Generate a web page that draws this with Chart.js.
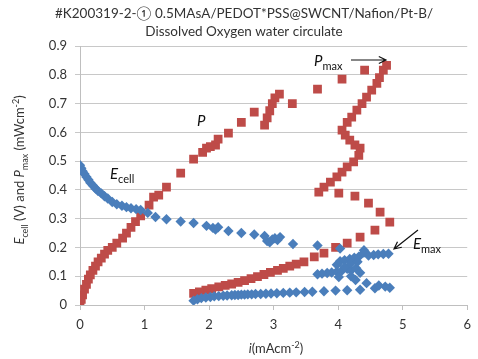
<!DOCTYPE html>
<html lang="en">
<head>
<meta charset="UTF-8">
<title>Ecell and P vs i</title>
<style>
  html, body { margin: 0; padding: 0; background: #fff; }
  #chart { display: block; }
</style>
</head>
<body>
<canvas id="chart" width="478" height="359"></canvas>
<script src="https://cdn.jsdelivr.net/npm/chart.js"></script>
<script>
// P (red squares): current density i (mA/cm2) and power (mW/cm2)
const pI = [0, 0.02, 0.04, 0.07, 0.1, 0.13, 0.16, 0.2, 0.24, 0.28, 0.33, 0.38, 0.43, 0.5, 0.57, 0.66, 0.72, 0.79, 0.86, 0.94,
  1.07, 1.14, 1.22, 1.34, 1.56, 1.76, 1.9, 1.96, 2.02, 2.1, 2.14, 2.3, 2.5, 2.7, 2.86, 2.9, 2.94, 2.98, 3.02, 3.09, 3.29, 3.68, 4.06, 4.41, 4.75,
  4.7, 4.64, 4.6, 4.52, 4.44, 4.37, 4.29, 4.21, 4.14, 4.06, 4.11, 4.18, 4.26, 4.34, 4.32, 4.24, 4.14, 4.06, 3.98, 3.88, 3.78, 3.7,
  4.01, 4.26, 4.47, 4.65, 4.8,
  4.57, 4.34, 4.14, 3.96, 3.78, 3.63, 3.47, 3.35, 3.25, 3.15, 3.06, 2.95, 2.85, 2.75, 2.65, 2.55, 2.45, 2.35, 2.25, 2.15, 2.04, 1.95, 1.85, 1.76];
const pV = [0.005, 0.02, 0.035, 0.055, 0.072, 0.09, 0.105, 0.12, 0.135, 0.15, 0.163, 0.177, 0.19, 0.2, 0.215, 0.232, 0.25, 0.27, 0.29, 0.31,
  0.347, 0.375, 0.382, 0.41, 0.458, 0.507, 0.53, 0.545, 0.55, 0.556, 0.576, 0.597, 0.635, 0.67, 0.625, 0.65, 0.675, 0.7, 0.72, 0.733, 0.7, 0.75, 0.785, 0.816, 0.833,
  0.816, 0.79, 0.77, 0.747, 0.722, 0.7, 0.677, 0.653, 0.635, 0.608, 0.59, 0.573, 0.556, 0.545, 0.52, 0.497, 0.48, 0.462, 0.445, 0.427, 0.41, 0.392,
  0.389, 0.378, 0.354, 0.323, 0.288,
  0.26, 0.236, 0.215, 0.2, 0.18, 0.167, 0.15, 0.142, 0.135, 0.127, 0.12, 0.113, 0.106, 0.099, 0.092, 0.085, 0.079, 0.073, 0.068, 0.063, 0.057, 0.052, 0.046, 0.04];

// Ecell (blue diamonds): current density i and cell voltage (V)
const eI = [0, 0.02, 0.04, 0.07, 0.1, 0.13, 0.16, 0.2, 0.24, 0.28, 0.33, 0.38, 0.43, 0.5, 0.57, 0.65, 0.72, 0.79, 0.87, 0.94,
  1.05, 1.17, 1.34, 1.56, 1.76, 1.96, 2.06, 2.1, 2.14, 2.3, 2.5, 2.7, 2.86, 2.9, 2.94, 2.98, 3.02, 3.06, 3.1, 3.3, 3.68, 4.03, 4.4,
  1.76, 1.82, 1.88, 1.95, 2.02, 2.08, 2.15, 2.22, 2.28, 2.35, 2.4, 2.45, 2.5, 2.55, 2.6, 2.66, 2.72, 2.8, 2.88, 2.96, 3.05, 3.15, 3.25, 3.35, 3.48, 3.6, 3.78, 3.96, 4.14, 4.34, 4.57, 4.8,
  3.68, 3.75, 3.83, 3.9, 3.98, 4.06, 4.14, 4.2, 4.28, 4.34, 4.2, 4.01, 4.27, 4.44, 4.63, 4.73,
  3.98, 4.03, 4.1, 4.18, 4.25, 4.32, 4.4, 4.47, 4.55, 4.62, 4.7, 4.78, 4.1, 4.2, 4.3];
const eV = [0.486, 0.475, 0.465, 0.455, 0.445, 0.435, 0.425, 0.415, 0.405, 0.396, 0.388, 0.378, 0.37, 0.358, 0.35, 0.345, 0.34, 0.336, 0.333, 0.33,
  0.32, 0.306, 0.298, 0.29, 0.285, 0.275, 0.268, 0.262, 0.27, 0.257, 0.25, 0.245, 0.24, 0.222, 0.218, 0.228, 0.232, 0.226, 0.236, 0.212, 0.207, 0.196, 0.19,
  0.015, 0.02, 0.024, 0.026, 0.028, 0.03, 0.031, 0.032, 0.033, 0.034, 0.035, 0.035, 0.036, 0.036, 0.037, 0.037, 0.038, 0.038, 0.039, 0.04, 0.041, 0.042, 0.043, 0.044, 0.045, 0.046, 0.048, 0.05, 0.051, 0.053, 0.058, 0.06,
  0.107, 0.109, 0.111, 0.113, 0.116, 0.12, 0.126, 0.12, 0.128, 0.112, 0.1, 0.097, 0.087, 0.076, 0.068, 0.064,
  0.14, 0.152, 0.156, 0.16, 0.164, 0.168, 0.182, 0.172, 0.174, 0.176, 0.177, 0.178, 0.132, 0.145, 0.15];

const xTicks = [0, 1, 2, 3, 4, 5, 6];
const yTicks = [0, 0.1, 0.2, 0.3, 0.4, 0.5, 0.6, 0.7, 0.8, 0.9];
const titleLines = ['#K200319-2-\u2460 0.5MAsA/PEDOT*PSS@SWCNT/Nafion/Pt-B/', 'Dissolved Oxygen water circulate'];

const FONT = 'Lato, "DejaVu Sans", sans-serif';
const TXT = '#333333';

function toPoints(xs, ys) {
  return xs.map((x, k) => ({ x: x, y: ys[k] }));
}

// draw text made of parts with italic / sub / sup
function drawRich(ctx, parts, x, y, size, align) {
  const fontOf = p => (p.italic ? 'italic ' : '') + (p.sub || p.sup ? Math.round(size * 0.72) : size) + 'px ' + FONT;
  let total = 0;
  parts.forEach(p => { ctx.font = fontOf(p); total += ctx.measureText(p.t).width; });
  let cx = align === 'center' ? x - total / 2 : x;
  ctx.textAlign = 'left';
  ctx.textBaseline = 'alphabetic';
  parts.forEach(p => {
    ctx.font = fontOf(p);
    let dy = 0;
    if (p.sub) dy = size * 0.28;
    if (p.sup) dy = -size * 0.4;
    ctx.fillText(p.t, cx, y + dy);
    cx += ctx.measureText(p.t).width;
  });
}

function arrow(ctx, x1, y1, x2, y2) {
  const a = Math.atan2(y2 - y1, x2 - x1);
  const h = 8;
  ctx.beginPath();
  ctx.moveTo(x1, y1);
  ctx.lineTo(x2, y2);
  ctx.moveTo(x2 - h * Math.cos(a - 0.45), y2 - h * Math.sin(a - 0.45));
  ctx.lineTo(x2, y2);
  ctx.lineTo(x2 - h * Math.cos(a + 0.45), y2 - h * Math.sin(a + 0.45));
  ctx.stroke();
}

const labelsPlugin = {
  id: 'labels',
  afterDraw(chart) {
    const ctx = chart.ctx;
    ctx.save();
    ctx.fillStyle = TXT;
    // title
    ctx.font = '13.5px ' + FONT;
    ctx.textAlign = 'center';
    ctx.textBaseline = 'middle';
    ctx.fillText(titleLines[0], 244, 14);
    ctx.fillText(titleLines[1], 244, 32);

    // axis titles
    drawRich(ctx, [{ t: 'i', italic: true }, { t: '(mAcm' }, { t: '-2', sup: true }, { t: ')' }], 276, 353, 13, 'center');
    ctx.save();
    ctx.translate(24, 170);
    ctx.rotate(-Math.PI / 2);
    drawRich(ctx, [{ t: 'E', italic: true }, { t: 'cell', sub: true }, { t: ' (V) and ' }, { t: 'P', italic: true },
      { t: 'max', sub: true }, { t: ' (mWcm' }, { t: '-2', sup: true }, { t: ')' }], 0, 0, 13, 'center');
    ctx.restore();

    // annotations
    ctx.fillStyle = '#111';
    drawRich(ctx, [{ t: 'P', italic: true }], 197, 126, 15, 'left');
    drawRich(ctx, [{ t: 'E', italic: true }, { t: 'cell', sub: true }], 110, 179, 15, 'left');
    drawRich(ctx, [{ t: 'P', italic: true }, { t: 'max', sub: true }], 314, 66, 15, 'left');
    drawRich(ctx, [{ t: 'E', italic: true }, { t: 'max', sub: true }], 413, 249, 15, 'left');
    ctx.restore();

    ctx.save();
    ctx.strokeStyle = '#111';
    ctx.lineWidth = 1.2;
    arrow(ctx, 351, 60, 386, 60);
    arrow(ctx, 418, 230, 394, 249);
    ctx.restore();
  }
};

new Chart(document.getElementById('chart'), {
  type: 'scatter',
  data: {
    datasets: [{
      label: 'Ecell',
      data: toPoints(eI, eV),
      pointStyle: 'rectRot',
      radius: 5.2,
      backgroundColor: '#4A7EBB',
      borderColor: '#4A7EBB',
      borderWidth: 0
    }, {
      label: 'P',
      data: toPoints(pI, pV),
      pointStyle: 'rect',
      radius: 6.2,
      backgroundColor: '#BE4B48',
      borderColor: '#BE4B48',
      borderWidth: 0
    }]
  },
  options: {
    responsive: false,
    animation: false,
    events: [],
    layout: { padding: { top: 46, right: 7, left: 0, bottom: 0 } },
    plugins: { legend: { display: false }, tooltip: { enabled: false }, title: { display: false } },
    scales: {
      x: {
        type: 'linear', min: 0, max: 6,
        afterFit: s => { s.height = 54; },
        afterBuildTicks: s => { s.ticks = xTicks.map(v => ({ value: v })); },
        grid: { drawOnChartArea: false, drawTicks: true, tickLength: 5, color: '#BFBFBF' },
        border: { display: true, color: '#BFBFBF' },
        ticks: { padding: 7, color: TXT, font: { family: FONT, size: 13 }, maxRotation: 0 }
      },
      y: {
        type: 'linear', min: 0, max: 0.9,
        afterFit: s => { s.width = 80; },
        afterBuildTicks: s => { s.ticks = yTicks.map(v => ({ value: v })); },
        grid: { drawTicks: true, tickLength: 5, color: '#C8C8C8' },
        border: { display: true, color: '#BFBFBF' },
        ticks: {
          padding: 8, color: TXT, font: { family: FONT, size: 13 },
          callback: v => (v === 0 ? '0' : v.toFixed(1))
        }
      }
    }
  },
  plugins: [labelsPlugin]
});
</script>
</body>
</html>
